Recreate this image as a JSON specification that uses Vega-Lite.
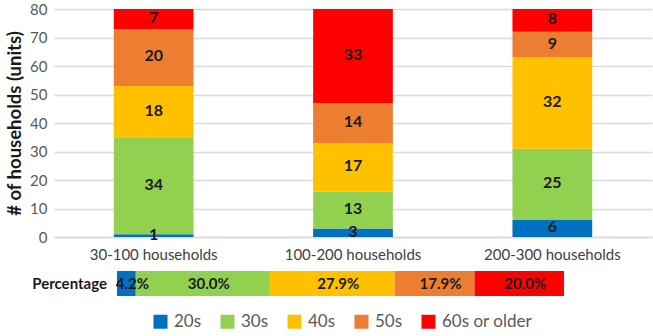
{
  "$schema": "https://vega.github.io/schema/vega-lite/v6.json",
  "background": "white",
  "padding": {"left": 5, "top": 2, "right": 3, "bottom": 0},
  "bounds": "flush",
  "spacing": 34,
  "config": {"view": {"stroke": null}, "font": "Lato"},
  "vconcat": [
    {
      "width": 598,
      "height": 228,
      "data": {
        "values": [
          {"size": "30-100 households", "age": "20s", "count": 1},
          {"size": "30-100 households", "age": "30s", "count": 34},
          {"size": "30-100 households", "age": "40s", "count": 18},
          {"size": "30-100 households", "age": "50s", "count": 20},
          {"size": "30-100 households", "age": "60s or older", "count": 7},
          {"size": "100-200 households", "age": "20s", "count": 3},
          {"size": "100-200 households", "age": "30s", "count": 13},
          {"size": "100-200 households", "age": "40s", "count": 17},
          {"size": "100-200 households", "age": "50s", "count": 14},
          {"size": "100-200 households", "age": "60s or older", "count": 33},
          {"size": "200-300 households", "age": "20s", "count": 6},
          {"size": "200-300 households", "age": "30s", "count": 25},
          {"size": "200-300 households", "age": "40s", "count": 32},
          {"size": "200-300 households", "age": "50s", "count": 9},
          {"size": "200-300 households", "age": "60s or older", "count": 8}
        ]
      },
      "encoding": {
        "x": {
          "field": "size",
          "type": "nominal",
          "sort": ["30-100 households", "100-200 households", "200-300 households"],
          "scale": {"paddingInner": 0.6, "paddingOuter": 0.3},
          "axis": {
            "title": null,
            "labelAngle": 0,
            "labelFontSize": 15,
            "labelColor": "#404040",
            "ticks": false,
            "domainColor": "#d9d9d9",
            "domainWidth": 1.5,
            "labelPadding": 10
          }
        },
        "y": {
          "field": "count",
          "type": "quantitative",
          "stack": "zero",
          "scale": {"domain": [0, 80]},
          "axis": {
            "values": [0, 10, 20, 30, 40, 50, 60, 70, 80],
            "title": "# of households (units)",
            "titleFontSize": 18.5,
            "titleFontWeight": "bold",
            "titleColor": "#1a1a1a",
            "labelFontSize": 15,
            "labelColor": "#595959",
            "gridColor": "#d9d9d9",
            "gridWidth": 1.5,
            "domain": false,
            "ticks": false,
            "labelPadding": 7,
            "titlePadding": 5
          }
        },
        "order": {"field": "age", "type": "ordinal", "sort": "ascending"}
      },
      "layer": [
        {
          "mark": {"type": "bar"},
          "encoding": {
            "color": {
              "field": "age",
              "type": "nominal",
              "scale": {
                "domain": ["20s", "30s", "40s", "50s", "60s or older"],
                "range": ["#0070C0", "#92D050", "#FFC000", "#ED7D31", "#FF0000"]
              },
              "legend": {
                "title": null,
                "orient": "none",
                "direction": "horizontal",
                "legendX": 98,
                "legendY": 304,
                "symbolType": "square",
                "symbolSize": 196,
                "symbolStrokeWidth": 0,
                "symbolOpacity": 1,
                "labelFontSize": 17,
                "labelColor": "#595959",
                "labelOffset": 5,
                "columnPadding": 17
              }
            }
          }
        },
        {
          "mark": {"type": "text", "fontWeight": "bold", "fontSize": 16, "color": "#1a1a1a", "dy": -1},
          "encoding": {
            "y": {"field": "count", "type": "quantitative", "stack": "zero", "bandPosition": 0.5},
            "detail": {"field": "age"},
            "text": {"field": "count", "type": "quantitative"}
          }
        }
      ]
    },
    {
      "width": 598,
      "height": 25,
      "data": {
        "values": [
          {"row": "Percentage", "age": "20s", "pct": 4.2, "label": "4.2%"},
          {"row": "Percentage", "age": "30s", "pct": 30.0, "label": "30.0%"},
          {"row": "Percentage", "age": "40s", "pct": 27.9, "label": "27.9%"},
          {"row": "Percentage", "age": "50s", "pct": 17.9, "label": "17.9%"},
          {"row": "Percentage", "age": "60s or older", "pct": 20.0, "label": "20.0%"}
        ]
      },
      "encoding": {
        "y": {
          "field": "row",
          "type": "nominal",
          "scale": {"paddingInner": 0, "paddingOuter": 0},
          "axis": null
        }
      },
      "layer": [
        {
          "mark": {"type": "bar"},
          "encoding": {
            "x": {
              "field": "pct",
              "type": "quantitative",
              "stack": "zero",
              "scale": {"domain": [-14.09, 119.69], "nice": false, "zero": false},
              "axis": null
            },
            "color": {"field": "age", "type": "nominal"},
            "order": {"field": "age", "type": "ordinal", "sort": "ascending"}
          }
        },
        {
          "mark": {"type": "text", "fontWeight": "bold", "fontSize": 15, "color": "#1a1a1a", "dx": 6},
          "encoding": {
            "x": {"field": "pct", "type": "quantitative", "stack": "zero", "bandPosition": 0.5},
            "detail": {"field": "age"},
            "order": {"field": "age", "type": "ordinal", "sort": "ascending"},
            "text": {"field": "label"}
          }
        },
        {
          "transform": [{"filter": "datum.age === '20s'"}],
          "mark": {"type": "text", "align": "right", "dx": -10, "fontWeight": "bold", "fontSize": 15, "color": "#1a1a1a"},
          "encoding": {
            "x": {"datum": 0, "type": "quantitative"},
            "text": {"field": "row"}
          }
        }
      ]
    }
  ]
}
